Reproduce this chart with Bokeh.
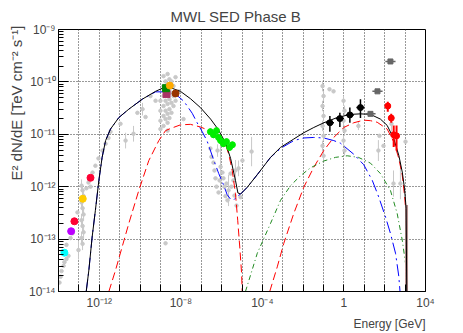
import numpy as np
from bokeh.plotting import figure
from bokeh.models import FixedTicker, CustomJSTickFormatter, Range1d, Title
from bokeh.embed import file_html
from bokeh.resources import INLINE

# ---------------- data (log10 of energy [GeV] and log10 of E^2 dN/dE [TeV cm^-2 s^-1]) -------------
x_label_exps = [-12, -8, -4, 0, 4]
x_label_texts = ["10⁻¹²", "10⁻⁸", "10⁻⁴", "1", "10⁴"]
y_label_exps = [-14, -13, -12, -11, -10, -9]
y_label_texts = ["10⁻¹⁴", "10⁻¹³", "10⁻¹²", "10⁻¹¹", "10⁻¹⁰", "10⁻⁹"]

# model: total (black)
tot_lx = [-12.64, -12.51, -12.35, -12.19, -12.02, -11.86, -11.69, -11.45, -11.04, -10.55, -9.89, -9.24,
          -8.84, -8.51, -8.02, -7.53, -7.04, -6.54, -6.18, -5.81, -5.56, -5.32, -5.20, -5.07, -4.74, -4.25,
          -3.60, -3.11, -2.46, -1.97, -1.48, -0.99, -0.33, 0.32, 0.81, 1.30, 1.79, 2.12, 2.45, 2.69, 2.86,
          2.97, 3.05, 3.08]
tot_ly = [-14.0, -13.59, -12.96, -12.45, -11.88, -11.44, -11.12, -10.90, -10.68, -10.52, -10.33, -10.18,
          -10.11, -10.11, -10.18, -10.32, -10.49, -10.71, -10.90, -11.16, -11.46, -11.88, -12.12, -12.14,
          -12.01, -11.77, -11.44, -11.25, -11.09, -10.97, -10.87, -10.78, -10.68, -10.62, -10.61, -10.62,
          -10.71, -10.83, -11.09, -11.40, -11.72, -12.03, -12.41, -14.0]

# model component (red, long dash) - low energy bump
red1_lx = [-11.53, -11.20, -10.88, -10.55, -10.06, -9.57, -9.08, -8.75, -8.51, -8.02, -7.53, -7.04, -6.54,
           -6.22, -5.81, -5.65, -5.48, -5.32, -5.21, -5.11, -5.02, -4.99]
red1_ly = [-14.0, -13.59, -13.15, -12.70, -12.07, -11.50, -11.12, -10.93, -10.89, -10.82, -10.81, -10.86,
           -10.94, -11.03, -11.19, -11.38, -11.69, -12.13, -12.64, -13.15, -13.65, -14.0]
# model component (red, long dash) - high energy bump
red2_lx = [-3.64, -3.27, -2.95, -2.46, -1.97, -1.48, -0.99, -0.50, -0.01, 0.48, 0.97, 1.30, 1.63, 2.12,
           2.45, 2.69, 2.86, 2.97, 3.05, 3.08]
red2_ly = [-14.0, -13.53, -13.08, -12.51, -12.01, -11.63, -11.31, -11.06, -10.87, -10.78, -10.73, -10.74,
           -10.77, -10.90, -11.15, -11.46, -11.78, -12.16, -12.54, -14.0]

# model component (blue, dash-dot)
blue_lx = [-12.64, -12.51, -12.35, -12.19, -12.02, -11.86, -11.69, -11.45, -11.04, -10.55, -9.89, -9.24,
           -8.67, -8.51, -8.21, -7.85, -7.44, -7.20, -6.95, -6.71, -6.38, -6.14, -5.89, -5.73, -5.56, -5.40,
           -5.22, -5.07, -4.74, -4.25, -3.60, -3.11, -2.46, -1.97, -1.48, -0.99, -0.50, -0.17, 0.48, 0.97,
           1.39, 1.71, 2.04, 2.28, 2.53, 2.69, 2.75]
blue_ly = [-14.0, -13.59, -12.96, -12.45, -11.88, -11.44, -11.12, -10.90, -10.68, -10.52, -10.33, -10.19,
           -10.19, -10.19, -10.25, -10.37, -10.60, -10.78, -10.95, -11.13, -11.50, -11.75, -11.98, -12.15,
           -12.24, -12.25, -12.18, -12.14, -12.01, -11.77, -11.44, -11.27, -11.12, -11.07, -11.06, -11.07,
           -11.12, -11.17, -11.38, -11.58, -11.88, -12.20, -12.58, -12.89, -13.27, -13.71, -14.0]

# model component (green, dash-dot-dot)
green_lx = [-4.83, -4.25, -3.60, -3.11, -2.62, -2.13, -1.64, -0.99, -0.41, 0.16, 0.71, 1.30, 1.79, 2.28,
            2.61, 2.86, 3.02, 3.07, 3.08]
green_ly = [-14.0, -13.27, -12.70, -12.26, -11.98, -11.79, -11.64, -11.51, -11.44, -11.41, -11.44, -11.55,
            -11.75, -12.07, -12.51, -13.02, -13.46, -13.82, -14.0]

# cut-off band (brown)
band_lx = [3.07, 3.07]
band_ly = [-12.35, -14.0]

# archival data (grey), points without error bars
grey_lx = [-13.95, -13.90, -13.85, -13.75, -13.71, -13.61, -13.51, -13.80, -13.61, -13.41, -13.31, -13.17,
           -13.07, -12.63, -12.53, -12.43, -12.33, -12.19, -12.04, -11.84, -11.69, -11.55, -11.45, -10.96,
           -10.13, -9.73, -9.49, -9.24,
           -9.00, -9.00, -9.00, -9.00, -8.85, -8.85, -8.85, -8.85, -8.85, -8.85, -8.75, -8.75, -8.75, -8.75,
           -8.75, -8.65, -8.65, -8.65, -8.65, -8.65, -8.65, -8.65, -8.56, -8.56, -8.56, -8.56, -8.56, -8.46,
           -8.46, -8.46, -8.46, -8.36, -8.36, -8.36, -8.26, -8.26, -8.11,
           -7.87, -8.75, -6.55, -6.50, -6.40, -6.35, -6.30, -6.25, -6.15, -6.10, -5.96, -5.91, -5.86, -5.81,
           -5.76, -5.71, -5.56, -5.52, -5.42, -5.37, -5.27, -5.07, -4.98,
           -0.71, -0.51, 1.74, 1.94, 3.02]
grey_ly = [-13.83, -13.72, -13.61, -13.51, -13.44, -13.38, -13.32, -13.23, -13.11, -12.98, -12.89, -12.68,
           -12.49, -12.03, -11.92, -12.00, -11.73, -11.60, -11.46, -11.31, -11.18, -11.07, -10.95, -10.80,
           -10.59, -10.67, -10.27, -10.36,
           -10.36, -10.55, -10.74, -10.90, -9.89, -10.08, -10.27, -10.46, -10.65, -10.84, -9.99, -10.18,
           -10.36, -10.55, -10.71, -9.85, -10.04, -10.23, -10.42, -10.61, -10.78, -10.93, -9.95, -10.14,
           -10.33, -10.52, -10.69, -9.99, -10.21, -10.40, -10.59, -10.08, -10.27, -10.46, -9.91, -10.36,
           -10.18,
           -10.71, -13.08, -11.27, -11.43, -11.54, -11.69, -11.84, -12.00, -12.11, -11.88, -11.73, -11.84,
           -12.00, -12.18, -11.94, -12.26, -11.75, -12.00, -11.88, -12.17, -12.36, -12.20, -11.50,
           -10.14, -10.18, -11.03, -11.22, -11.14]

# archival data (grey) with vertical error bars: log E, log F, error (dex)
greye_lx = [-12.87, -12.82, -12.77, -12.87, -12.82, -12.77, -12.87, -12.82, -12.77, -12.87, -12.82, -13.02,
            -10.71, -10.32, -9.88, -6.05, -5.66, -5.32, -5.17, -4.53, -6.20,
            -1.05, -1.00, -1.05, -1.00, -1.05, -1.00, -1.05, -1.00,
            -0.02, 0.03, -0.02, 0.03, -0.02, 0.03, 0.71, 1.69, 2.33, 2.43, 2.77]
greye_ly = [-11.98, -12.07, -12.18, -12.30, -12.41, -12.53, -12.64, -12.75, -12.87, -12.98, -13.09, -13.21,
            -11.12, -10.99, -10.52, -11.62, -12.07, -11.69, -11.65, -11.33, -11.31,
            -10.08, -10.27, -10.46, -10.65, -10.84, -11.03, -11.22, -11.41,
            -10.36, -10.55, -10.74, -10.93, -11.12, -11.31, -10.84, -11.31, -10.80, -11.94, -11.94]
greye_err = [0.12, 0.12, 0.12, 0.12, 0.12, 0.12, 0.12, 0.12, 0.12, 0.12, 0.12, 0.18,
             0.15, 0.15, 0.12, 0.45, 0.30, 0.20, 0.15, 0.28, 0.12,
             0.10, 0.10, 0.10, 0.10, 0.10, 0.10, 0.10, 0.10,
             0.10, 0.10, 0.10, 0.10, 0.10, 0.10, 0.08, 0.20, 0.15, 0.25, 0.30]

# dark grey upper points with horizontal bars
dgrey_lx = [1.30, 1.645, 2.28]
dgrey_ly = [-10.61, -10.18, -9.61]
dgrey_xerr = [0.25, 0.25, 0.25]

# radio / mm simultaneous points
radio_lx = [-13.71, -13.38, -13.22, -12.81, -12.43]
radio_ly = [-13.26, -12.85, -12.66, -12.23, -11.83]
radio_col = ["#00ffff", "#bb00ff", "#ff0033", "#ffcc00", "#ff0033"]

# optical / UV simultaneous points
opt_lx = [-8.70, -8.73, -8.26, -8.54]
opt_ly = [-10.23, -10.12, -10.22, -10.07]
opt_col = ["#aa3366", "#008800", "#993300", "#ffaa00"]
opt_marker = ["square", "square", "circle", "circle"]

# X-ray points (green)
xr_lx = [-6.55, -6.40, -6.25, -6.15, -6.05, -5.91, -5.76, -5.61, -5.47]
xr_ly = [-10.95, -11.01, -10.93, -11.06, -11.12, -11.18, -11.14, -11.25, -11.20]
xr_xerr = [0.08, 0.08, 0.08, 0.08, 0.08, 0.08, 0.08, 0.08, 0.08]
xr_yerr = [0.06, 0.06, 0.06, 0.06, 0.06, 0.06, 0.06, 0.06, 0.06]

# HE gamma points (black)
he_lx = [-0.69, -0.20, 0.29, 0.81]
he_ly = [-10.78, -10.70, -10.63, -10.49]
he_lo = [-10.95, -10.86, -10.78, -10.69]
he_hi = [-10.65, -10.59, -10.49, -10.33]
he_xerr = [0.2, 0.2, 0.2, 0.2]

# VHE gamma points (red)
vhe_lx = [2.15, 2.32, 2.44, 2.58]
vhe_ly = [-10.46, -10.69, -11.01, -11.03]
vhe_lo = [-10.57, -10.78, -11.24, -11.31]
vhe_hi = [-10.38, -10.61, -10.83, -10.83]


def pw(a):
    return 10.0 ** np.asarray(a, dtype=float)


FONT = "Liberation Sans"

p = figure(width=463, height=333, x_axis_type="log", y_axis_type="log",
           x_range=Range1d(1e-14, 1e4), y_range=Range1d(1e-14, 1e-9),
           output_backend="svg", toolbar_location=None,
           min_border_left=58, min_border_right=38, min_border_top=28, min_border_bottom=41,
           title="MWL SED Phase B")
p.background_fill_color = "white"
p.border_fill_color = "white"
p.outline_line_color = "black"
p.outline_line_width = 1
p.title.align = "left"
p.title.offset = 112
p.title.text_font = FONT
p.title.text_font_size = "15px"
p.title.text_font_style = "normal"
p.title.standoff = 10

x_major = [float(v) for v in pw(np.arange(-14, 5))]
y_major = [float(v) for v in pw(np.arange(-14, -8))]
y_minor = [float(m * 10.0 ** e) for e in range(-14, -9) for m in range(2, 10)]

p.xaxis.ticker = FixedTicker(ticks=x_major, minor_ticks=[])
p.yaxis.ticker = FixedTicker(ticks=y_major, minor_ticks=y_minor)
p.xaxis.formatter = CustomJSTickFormatter(args=dict(vals=x_label_exps, labs=x_label_texts), code="""
const e = Math.round(Math.log10(tick));
const i = vals.indexOf(e);
return i >= 0 ? labs[i] : "";
""")
p.yaxis.formatter = CustomJSTickFormatter(args=dict(vals=y_label_exps, labs=y_label_texts), code="""
const e = Math.round(Math.log10(tick));
const i = vals.indexOf(e);
return i >= 0 ? labs[i] : "";
""")

for ax in (p.xaxis, p.yaxis):
    ax.major_label_text_font = FONT
    ax.major_label_text_font_size = "12px"
    ax.axis_line_color = "black"
    ax.major_tick_line_color = "black"
    ax.minor_tick_line_color = "black"
    ax.major_tick_out = 0
    ax.minor_tick_out = 0

p.xaxis.major_label_standoff = 4
p.yaxis.major_label_standoff = 3
p.xaxis.major_tick_in = 7
p.yaxis.major_tick_in = 10
p.yaxis.minor_tick_in = 5

for g in (p.xgrid, p.ygrid):
    g.grid_line_color = "#333333"
    g.grid_line_dash = "1 2"
    g.grid_line_width = 1

# axis titles (ROOT style: right-aligned at the axis end)
p.add_layout(Title(text="Energy [GeV]", align="right", text_font=FONT, text_font_size="12px",
                   text_font_style="normal", standoff=5), "below")
p.add_layout(Title(text="E² dN/dE [TeV cm⁻² s⁻¹]", align="right", offset=-4, text_font=FONT,
                   text_font_size="15px", text_font_style="normal", standoff=2), "left")

GREY = "#c8c8c8"
# grey archival data
p.segment(pw(greye_lx), pw(np.array(greye_ly) - np.array(greye_err)),
          pw(greye_lx), pw(np.array(greye_ly) + np.array(greye_err)), line_color=GREY, line_width=1)
p.scatter(pw(greye_lx), pw(greye_ly), size=3.5, color=GREY)
p.scatter(pw(grey_lx), pw(grey_ly), size=3.5, color=GREY)

# models
p.line(pw(red1_lx), pw(red1_ly), line_color="red", line_width=1, line_dash="8 4")
p.line(pw(red2_lx), pw(red2_ly), line_color="red", line_width=1, line_dash="8 4")
p.line(pw(blue_lx), pw(blue_ly), line_color="blue", line_width=1, line_dash="12 4 2 4")
p.line(pw(green_lx), pw(green_ly), line_color="#228b22", line_width=1, line_dash="5 3 1 3")
p.line(pw(band_lx), pw(band_ly), line_color="#b89090", line_width=3)
p.line(pw(tot_lx), pw(tot_ly), line_color="black", line_width=1)

# dark grey points
p.segment(pw(np.array(dgrey_lx) - np.array(dgrey_xerr)), pw(dgrey_ly),
          pw(np.array(dgrey_lx) + np.array(dgrey_xerr)), pw(dgrey_ly), line_color="#666666", line_width=1.5)
p.scatter(pw(dgrey_lx), pw(dgrey_ly), marker="square", size=5, color="#666666")

# radio points
p.scatter(pw(radio_lx), pw(radio_ly), size=7, color=radio_col)

# optical points
p.scatter(pw(opt_lx), pw(opt_ly), marker=opt_marker, size=7, color=opt_col)

# X-ray points
p.segment(pw(np.array(xr_lx) - np.array(xr_xerr)), pw(xr_ly),
          pw(np.array(xr_lx) + np.array(xr_xerr)), pw(xr_ly), line_color="#00ee00", line_width=2)
p.segment(pw(xr_lx), pw(np.array(xr_ly) - np.array(xr_yerr)),
          pw(xr_lx), pw(np.array(xr_ly) + np.array(xr_yerr)), line_color="#00ee00", line_width=2)
p.scatter(pw(xr_lx), pw(xr_ly), size=6, color="#00ee00")

# HE gamma (black)
p.segment(pw(np.array(he_lx) - np.array(he_xerr)), pw(he_ly),
          pw(np.array(he_lx) + np.array(he_xerr)), pw(he_ly), line_color="black", line_width=1.5)
p.segment(pw(he_lx), pw(he_lo), pw(he_lx), pw(he_hi), line_color="black", line_width=1.5)
p.scatter(pw(he_lx), pw(he_ly), size=6, color="black")

# VHE gamma (red)
p.segment(pw(vhe_lx), pw(vhe_lo), pw(vhe_lx), pw(vhe_hi), line_color="red", line_width=2)
p.scatter(pw(vhe_lx), pw(vhe_ly), size=6, color="red")

open("out.html", "w").write(file_html(p, INLINE))
